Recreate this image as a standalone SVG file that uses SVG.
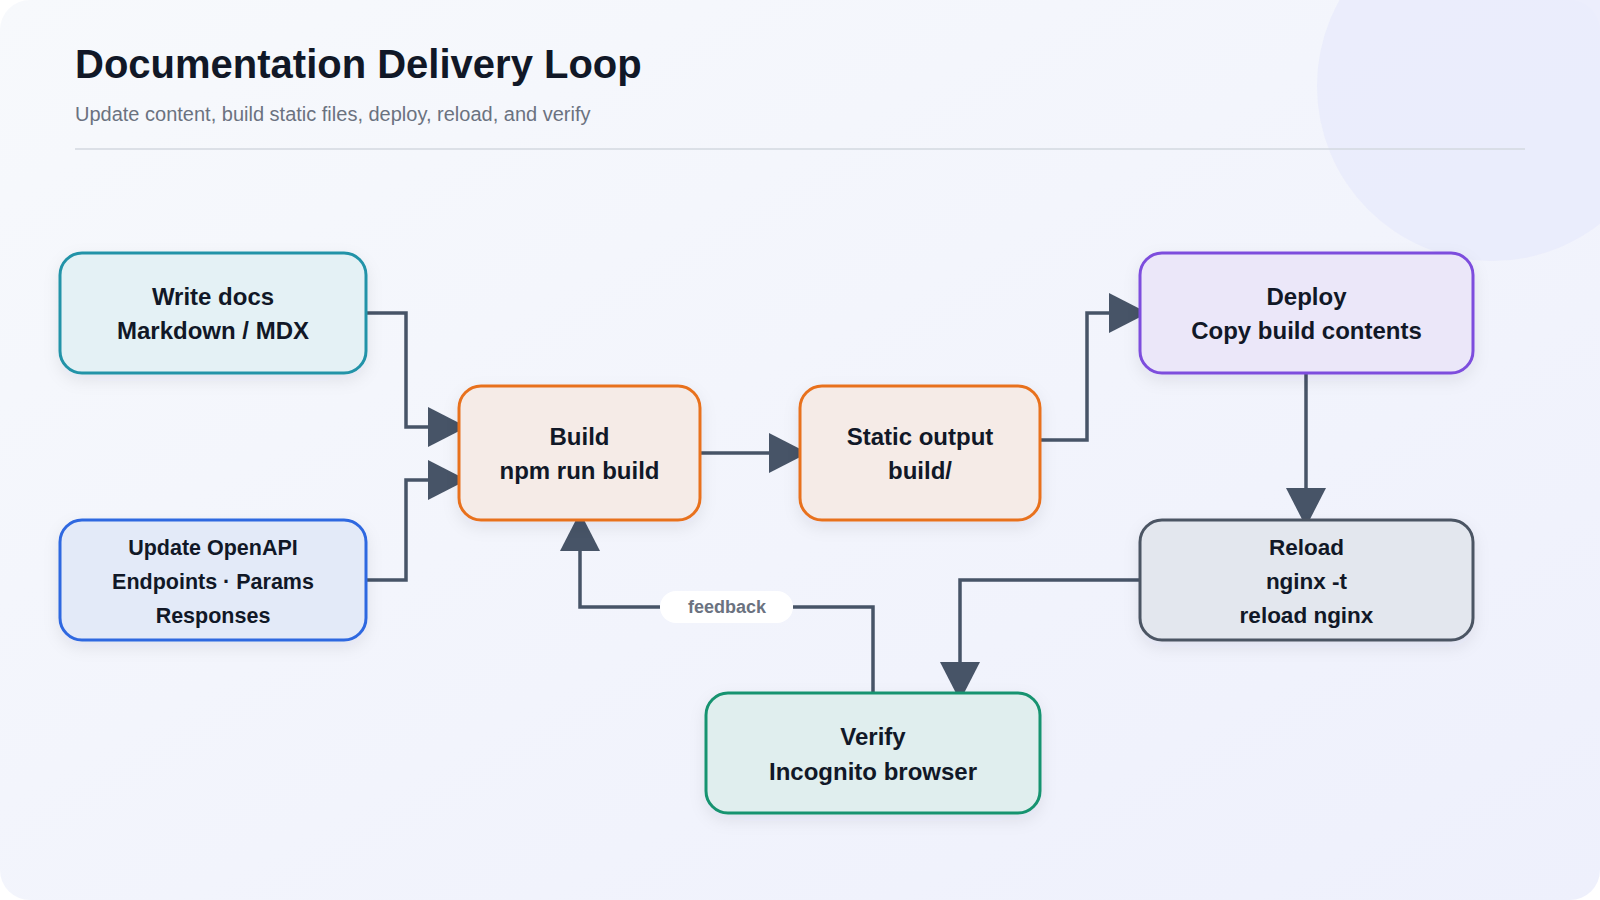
<svg xmlns="http://www.w3.org/2000/svg" width="1600" height="900" viewBox="0 0 1600 900">
  <defs>
    <linearGradient id="bg" x1="0" y1="0" x2="1" y2="1">
      <stop offset="0" stop-color="#f7f9fc"/>
      <stop offset="1" stop-color="#eef0fc"/>
    </linearGradient>
    <filter id="shadow" x="-20%" y="-20%" width="140%" height="150%">
      <feDropShadow dx="0" dy="6" stdDeviation="8" flood-color="#1e293b" flood-opacity="0.08"/>
    </filter>
    <marker id="arrow" markerUnits="userSpaceOnUse" markerWidth="40" markerHeight="40" viewBox="0 0 40 40" refX="31" refY="20" orient="auto">
      <path d="M0,0 L39,20 L0,40 Z" fill="#475467"/>
    </marker>
    <style>
      .node rect { stroke-width: 3; filter: url(#shadow); }
      .node text { font-family: "Liberation Sans", Arial, sans-serif; font-weight: 700; font-size: 24px; fill: #111827; text-anchor: middle; }
      .node.small text { font-size: 21.5px; }
      .node.mid text { font-size: 22.5px; }
      .conn path { fill: none; stroke: #475467; stroke-width: 3.5; stroke-linejoin: miter; }
      .title { font-family: "Liberation Sans", Arial, sans-serif; font-weight: 700; font-size: 40px; fill: #111827; }
      .subtitle { font-family: "Liberation Sans", Arial, sans-serif; font-size: 20px; fill: #6b7280; }
      .label { font-family: "Liberation Sans", Arial, sans-serif; font-weight: 700; font-size: 18px; fill: #6b7280; text-anchor: middle; }
    </style>
  </defs>

  <rect x="0" y="0" width="1600" height="900" fill="#ffffff"/>
  <rect x="0" y="0" width="1600" height="900" rx="30" fill="url(#bg)"/>
  <circle cx="1492" cy="86" r="175" fill="#e9ebfb" opacity="0.85"/>

  <text class="title" x="75" y="78">Documentation Delivery Loop</text>
  <text class="subtitle" x="75" y="121">Update content, build static files, deploy, reload, and verify</text>
  <line x1="75" y1="149" x2="1525" y2="149" stroke="#d3d8e0" stroke-width="1.5"/>

  <g class="conn" id="connectors">
    <path d="M366,313 H406 V427 H459" marker-end="url(#arrow)"/>
    <path d="M366,580 H406 V480 H459" marker-end="url(#arrow)"/>
    <path d="M700,453 H800" marker-end="url(#arrow)"/>
    <path d="M1040,440 H1087 V313 H1140" marker-end="url(#arrow)"/>
    <path d="M1306,374 V519" marker-end="url(#arrow)"/>
    <path d="M1140,580 H960 V693" marker-end="url(#arrow)"/>
    <path d="M873,693 V607 H793"/>
    <path d="M660,607 H580 V520" marker-end="url(#arrow)"/>
    <g id="feedback-label">
      <rect x="660" y="591" width="133" height="32" rx="16" fill="#ffffff" stroke="none"/>
      <text class="label" x="727" y="613">feedback</text>
    </g>
  </g>

  <g class="node" id="write-docs">
    <rect x="60" y="253" width="306" height="120" rx="22" fill="#e4f1f5" stroke="#2293a8"/>
    <text x="213" y="305">Write docs</text>
    <text x="213" y="339">Markdown / MDX</text>
  </g>
  <g class="node small" id="update-openapi">
    <rect x="60" y="520" width="306" height="120" rx="22" fill="#e3eaf8" stroke="#2f68e0"/>
    <text x="213" y="555">Update OpenAPI</text>
    <text x="213" y="589">Endpoints · Params</text>
    <text x="213" y="623">Responses</text>
  </g>
  <g class="node" id="build">
    <rect x="459" y="386" width="241" height="134" rx="22" fill="#f5ebe7" stroke="#e8711f"/>
    <text x="579.5" y="445">Build</text>
    <text x="579.5" y="479">npm run build</text>
  </g>
  <g class="node" id="static-output">
    <rect x="800" y="386" width="240" height="134" rx="22" fill="#f5ebe7" stroke="#e8711f"/>
    <text x="920" y="445">Static output</text>
    <text x="920" y="479">build/</text>
  </g>
  <g class="node" id="deploy">
    <rect x="1140" y="253" width="333" height="120" rx="22" fill="#ebe7f9" stroke="#7d4ddd"/>
    <text x="1306.5" y="305">Deploy</text>
    <text x="1306.5" y="339">Copy build contents</text>
  </g>
  <g class="node mid" id="reload">
    <rect x="1140" y="520" width="333" height="120" rx="22" fill="#e3e7ee" stroke="#4b5563"/>
    <text x="1306.5" y="555">Reload</text>
    <text x="1306.5" y="589">nginx -t</text>
    <text x="1306.5" y="623">reload nginx</text>
  </g>
  <g class="node" id="verify">
    <rect x="706" y="693" width="334" height="120" rx="22" fill="#e0eeee" stroke="#15936f"/>
    <text x="873" y="745">Verify</text>
    <text x="873" y="780">Incognito browser</text>
  </g>
</svg>
